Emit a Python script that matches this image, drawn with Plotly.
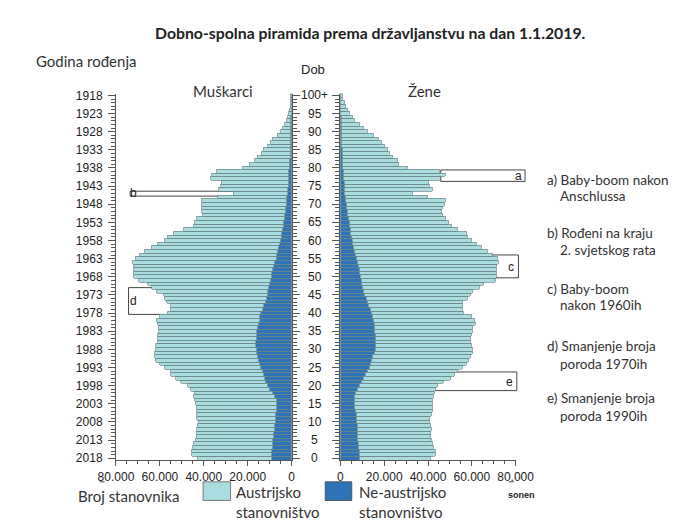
import plotly.graph_objects as go

# ---------------- data (population in thousands, age 0 .. 100+) ----------------
ages = list(range(0, 101))
age_ticks = list(range(0, 101, 5))
age_tick_text = [str(a) if a < 100 else "100+" for a in age_ticks]
birth_year_text = [str(2018 - a) for a in age_ticks]
x_tick_vals = [0, 20000, 40000, 60000, 80000]
x_tick_text = ["0", "20.000", "40.000", "60.000", "80.000"]

male_total = [
    42.6, 45.3, 45.5, 45.0, 44.5, 43.6, 43.3, 43.3, 43.0, 42.6,
    42.2, 42.9, 42.9, 42.9, 43.3, 43.7, 44.0, 44.5, 43.8, 45.9,
    47.3, 50.5, 52.7, 54.8, 55.1, 57.7, 59.9, 61.7, 62.3, 62.3,
    62.0, 62.0, 60.9, 60.9, 60.7, 60.6, 60.6, 61.0, 61.3, 59.9,
    56.5, 55.1, 55.1, 57.0, 57.7, 58.0, 61.3, 63.7, 65.6, 69.5,
    71.7, 71.8, 71.7, 71.7, 72.1, 70.9, 69.2, 66.8, 63.5, 60.9,
    57.7, 56.3, 53.4, 49.1, 44.7, 44.0, 43.3, 40.4, 40.7, 40.7,
    40.7, 40.7, 33.7, 26.3, 33.2, 32.2, 31.8, 36.8, 36.1, 34.0,
    22.0, 18.8, 16.8, 15.3, 13.3, 12.4, 10.9, 9.5, 8.3, 6.4,
    5.0, 4.0, 3.1, 2.3, 1.7, 1.2, 0.8, 0.5, 0.35, 0.2,
    0.25,
]
male_non_austrian = [
    8.8, 8.8, 8.8, 8.6, 8.5, 8.3, 8.2, 8.1, 7.8, 7.5,
    7.3, 7.2, 7.0, 6.9, 6.8, 6.6, 6.9, 7.6, 8.6, 9.8,
    10.9, 11.5, 12.0, 12.4, 13.1, 13.8, 14.4, 15.0, 15.3, 15.7,
    16.0, 16.1, 16.1, 16.0, 15.9, 15.7, 15.4, 15.0, 14.5, 14.2,
    13.8, 13.2, 12.6, 11.9, 11.4, 10.9, 10.6, 10.2, 9.8, 9.4,
    9.1, 8.8, 8.5, 8.0, 7.4, 6.9, 6.5, 6.1, 5.7, 5.2,
    4.8, 4.5, 4.2, 3.9, 3.6, 3.3, 3.1, 2.9, 2.7, 2.5,
    2.3, 2.1, 1.9, 1.5, 1.5, 1.4, 1.2, 1.2, 1.1, 1.0,
    0.7, 0.6, 0.55, 0.5, 0.45, 0.4, 0.35, 0.3, 0.3, 0.25,
    0.2, 0.15, 0.12, 0.1, 0.08, 0.06, 0.05, 0.04, 0.03, 0.02,
    0.02,
]
female_total = [
    40.9, 43.2, 43.2, 42.4, 42.1, 41.4, 40.9, 40.9, 41.4, 40.9,
    40.6, 40.6, 41.4, 41.8, 41.8, 41.8, 41.8, 42.4, 42.8, 43.5,
    44.5, 47.1, 50.0, 52.2, 53.6, 55.8, 57.6, 58.6, 59.4, 60.1,
    60.1, 59.8, 59.4, 59.4, 59.8, 60.1, 60.5, 61.8, 61.1, 59.8,
    56.2, 55.8, 55.8, 55.8, 57.9, 59.4, 60.1, 63.4, 65.1, 70.6,
    71.2, 71.3, 71.2, 71.2, 72.0, 71.6, 69.2, 67.3, 64.6, 62.2,
    59.8, 57.9, 57.6, 53.2, 50.7, 49.3, 47.8, 46.4, 46.1, 46.7,
    47.6, 47.8, 39.5, 32.7, 41.8, 40.6, 40.3, 45.7, 48.1, 45.4,
    30.8, 26.5, 25.9, 23.6, 22.3, 21.6, 20.2, 18.7, 17.3, 15.0,
    12.5, 10.7, 8.5, 6.3, 5.3, 4.2, 3.2, 2.4, 1.7, 1.0,
    0.7,
]
female_non_austrian = [
    8.9, 8.7, 8.5, 8.2, 8.1, 7.9, 7.9, 7.9, 7.8, 7.6,
    7.5, 7.3, 7.1, 6.8, 6.5, 6.3, 6.3, 6.5, 6.8, 7.6,
    8.6, 9.8, 10.6, 11.5, 12.4, 13.3, 13.8, 14.2, 14.7, 15.3,
    15.9, 15.9, 15.9, 15.9, 15.8, 15.7, 15.5, 15.3, 15.0, 14.5,
    14.0, 13.5, 13.0, 12.5, 11.8, 11.1, 10.6, 10.1, 9.8, 9.5,
    9.2, 8.9, 8.5, 8.1, 7.8, 7.5, 7.0, 6.5, 6.1, 5.7,
    5.3, 5.0, 4.7, 4.4, 4.1, 3.9, 3.6, 3.4, 3.1, 2.9,
    2.7, 2.5, 2.2, 1.8, 1.9, 1.7, 1.6, 1.5, 1.4, 1.2,
    1.0, 0.9, 0.85, 0.8, 0.75, 0.7, 0.65, 0.6, 0.55, 0.5,
    0.45, 0.4, 0.35, 0.3, 0.25, 0.2, 0.15, 0.12, 0.1, 0.08,
    0.1,
]

# ---------------- styling ----------------
W, H = 698, 521
LIGHT = "#a9dde0"
DARK = "#2e72b8"
EDGE = "#6a8486"
AXIS = "#555555"
TXT = "#222222"
HUMAN = "Lato, 'Open Sans', sans-serif"
ARIAL = "'Liberation Sans', Arial, sans-serif"


def fx(px):
    return px / W


def fy(py):
    return 1 - py / H


male_non = [v * 1000 for v in male_non_austrian]
male_aut = [(t - n) * 1000 for t, n in zip(male_total, male_non_austrian)]
female_non = [v * 1000 for v in female_non_austrian]
female_aut = [(t - n) * 1000 for t, n in zip(female_total, female_non_austrian)]

bar_line = dict(color=EDGE, width=0.7)

fig = go.Figure()
fig.add_trace(go.Bar(y=ages, x=male_non, orientation="h", xaxis="x", yaxis="y",
                     marker=dict(color=DARK, line=bar_line), width=1,
                     showlegend=False, hoverinfo="skip"))
fig.add_trace(go.Bar(y=ages, x=male_aut, orientation="h", xaxis="x", yaxis="y",
                     marker=dict(color=LIGHT, line=bar_line), width=1,
                     showlegend=False, hoverinfo="skip"))
fig.add_trace(go.Bar(y=ages, x=female_non, orientation="h", xaxis="x2", yaxis="y2",
                     marker=dict(color=DARK, line=bar_line), width=1,
                     showlegend=False, hoverinfo="skip"))
fig.add_trace(go.Bar(y=ages, x=female_aut, orientation="h", xaxis="x2", yaxis="y2",
                     marker=dict(color=LIGHT, line=bar_line), width=1,
                     showlegend=False, hoverinfo="skip"))

ydom = [fy(455.85), fy(82.15)]
xcommon = dict(
    tickmode="array", tickvals=x_tick_vals, ticktext=x_tick_text,
    ticks="outside", ticklen=5, tickcolor=AXIS, tickwidth=1,
    showline=True, linecolor=AXIS, linewidth=1,
    showgrid=False, zeroline=False,
    minor=dict(tickmode="linear", tick0=0, dtick=5000, ticks="outside",
               ticklen=3, tickcolor=AXIS, showgrid=False),
    tickfont=dict(family=ARIAL, size=12, color=TXT),
    fixedrange=True,
)
ycommon = dict(
    range=[-0.5, 100.5], tickmode="array", tickvals=age_ticks,
    ticks="outside", ticklen=7, tickcolor=AXIS, tickwidth=1,
    showline=True, linecolor=AXIS, linewidth=1,
    showgrid=False, zeroline=False,
    minor=dict(tickmode="linear", tick0=0, dtick=1, ticks="outside",
               ticklen=4, tickcolor=AXIS, showgrid=False),
    tickfont=dict(family=ARIAL, size=12, color=TXT),
    fixedrange=True,
)

fig.update_layout(
    width=W, height=H,
    margin=dict(l=0, r=0, t=0, b=0),
    paper_bgcolor="white", plot_bgcolor="rgba(0,0,0,0)",
    barmode="stack", bargap=0,
    xaxis=dict(domain=[fx(95), fx(280.5)], range=[80000, 0], anchor="y", **xcommon),
    xaxis2=dict(domain=[fx(332), fx(517)], range=[0, 80000], anchor="y2", **xcommon),
    yaxis=dict(domain=ydom, anchor="x", side="left", ticktext=birth_year_text,
               mirror="ticks", ticklabelstandoff=3, **ycommon),
    yaxis2=dict(domain=ydom, anchor="x2", side="left", matches="y",
                showticklabels=False, **ycommon),
)

annotations = []


def txt(x, y, s, size=13.5, family=HUMAN, anchor="left", color="#333333", bold=False):
    annotations.append(dict(
        x=fx(x), y=fy(y), xref="paper", yref="paper", text=("<b>%s</b>" % s) if bold else s,
        showarrow=False, xanchor=anchor, yanchor="middle",
        font=dict(family=family, size=size, color=color)))


# title and headers
txt(364, 20, "Dobno-spolna piramida prema državljanstvu na dan 1.1.2019.", size=15.8,
    anchor="center", color="#222222", bold=True)
txt(8, 49, "Godina rođenja", size=15)
txt(303, 58, "Dob", size=13, family=ARIAL, anchor="center", color=TXT)
txt(208, 80, "Muškarci", size=15, anchor="center")
txt(421, 80, "Žene", size=15, anchor="center")

# centre age labels
for a, t in zip(age_ticks, age_tick_text):
    annotations.append(dict(
        x=fx(305), y=a, xref="paper", yref="y", text=t, showarrow=False,
        xanchor="center", yanchor="middle",
        font=dict(family=ARIAL, size=12, color=TXT)))

# notes on the right
notes = [
    (170, "a) Baby-boom nakon", 187, "Anschlussa"),
    (224, "b) Rođeni na kraju", 242, "2. svjetskog rata"),
    (281, "c) Baby-boom", 298, "nakon 1960ih"),
    (340, "d) Smanjenje broja", 358, "poroda 1970ih"),
    (393, "e) Smanjenje broja", 411, "poroda 1990ih"),
]
for y1, t1, y2, t2 in notes:
    txt(548, y1, t1)
    txt(562, y2, t2)

# bottom texts and legend
txt(53, 492, "Broj stanovnika", size=15)
txt(523, 491, "sonen", size=9, family=ARIAL, anchor="center", color=TXT, bold=True)
txt(220, 488, "Austrijsko", size=15)
txt(220, 509, "stanovništvo", size=15)
txt(350, 488, "Ne-austrijsko", size=15)
txt(350, 509, "stanovništvo", size=15)

# bracket letters
txt(520, 166, "a", size=12, family=ARIAL, anchor="center", color=TXT)
txt(114, 184, "b", size=12, family=ARIAL, anchor="center", color=TXT)
txt(512, 259, "c", size=12, family=ARIAL, anchor="center", color=TXT)
txt(114, 294, "d", size=12, family=ARIAL, anchor="center", color=TXT)
txt(511, 376, "e", size=12, family=ARIAL, anchor="center", color=TXT)

fig.update_layout(annotations=annotations)

shapes = []


def path(points, fill=None, layer="below"):
    d = "M " + " L ".join("%.5f,%.5f" % (fx(px), fy(py)) for px, py in points)
    if fill:
        d += " Z"
    shapes.append(dict(type="path", path=d, xref="paper", yref="paper",
                       line=dict(color="#444444", width=1),
                       fillcolor=fill if fill else "rgba(0,0,0,0)", layer=layer))


# annotation boxes / brackets
path([(438, 160), (527, 160), (527, 171.7), (438, 171.7)], fill="white")
path([(110, 181.7), (220, 181.7), (220, 186.7), (110, 186.7)], fill="white")
path([(490, 246.7), (520, 246.7), (520, 270), (490, 270)])
path([(135, 280), (108.3, 280), (108.3, 307.3), (155, 307.3)])
path([(450, 366), (518.3, 366), (518.3, 385), (430, 385)])

# small stray marks present in the original
path([(78, 478), (83, 478)], layer="above")
path([(510, 478), (515, 478)], layer="above")

# legend swatches
shapes.append(dict(type="rect", xref="paper", yref="paper",
                   x0=fx(187), x1=fx(216), y0=fy(497), y1=fy(478),
                   fillcolor=LIGHT, line=dict(color="#777777", width=1), layer="above"))
shapes.append(dict(type="rect", xref="paper", yref="paper",
                   x0=fx(316), x1=fx(344), y0=fy(497), y1=fy(478),
                   fillcolor=DARK, line=dict(color="#555555", width=1), layer="above"))

fig.update_layout(shapes=shapes)

fig.write_html("out.html")
